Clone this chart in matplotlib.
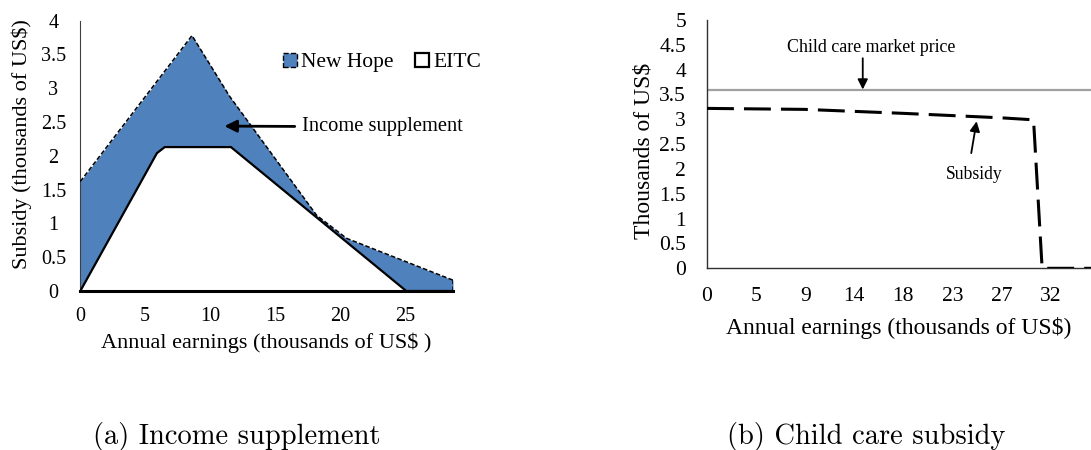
import numpy as np
import matplotlib
matplotlib.use("Agg")
import matplotlib.pyplot as plt
from matplotlib.patches import Patch

# ---------------- data ----------------
# (a) income supplement
nh_x = [0, 8.6, 11.5, 18.2, 20.5, 28.7]
nh_y = [1.62, 3.78, 2.88, 1.12, 0.78, 0.16]
eitc_x = [0, 5.9, 6.5, 11.6, 25.1, 28.7]
eitc_y = [0, 2.04, 2.13, 2.13, 0, 0]
a_xticks = [0, 5, 10, 15, 20, 25]
a_yticks = [0, 0.5, 1, 1.5, 2, 2.5, 3, 3.5, 4]
a_yticklabels = ["0", "0.5", "1", "1.5", "2", "2.5", "3", "3.5", "4"]

# (b) child care subsidy
price_x = [0, 36]
price_y = [3.6, 3.6]
sub_x = [0, 9.1, 18.3, 27.4, 30.4, 31.2, 36]
sub_y = [3.22, 3.20, 3.12, 3.03, 2.99, 0, 0]
b_xticks = list(np.linspace(0, 32, 8))
b_xticklabels = ["0", "5", "9", "14", "18", "23", "27", "32"]
b_yticks = [0, 0.5, 1, 1.5, 2, 2.5, 3, 3.5, 4, 4.5, 5]
b_yticklabels = ["0", "0.5", "1", "1.5", "2", "2.5", "3", "3.5", "4", "4.5", "5"]

BLUE = "#4F81BD"
SERIF = "Liberation Serif"
plt.rcParams["font.family"] = SERIF

W, H = 1091, 450
fig = plt.figure(figsize=(W / 100, H / 100), dpi=100)

def frac(l, t, r, b):
    return [l / W, 1 - b / H, (r - l) / W, (b - t) / H]

# ---------------- panel (a) ----------------
ax = fig.add_axes(frac(80.3, 20.7, 453, 291))
ax.fill_between(nh_x, 0, nh_y, color=BLUE, lw=0, zorder=1)
ax.fill_between(eitc_x, 0, eitc_y, color="white", lw=0, zorder=2)
ax.plot(eitc_x, eitc_y, color="black", lw=1.6, zorder=3, solid_joinstyle="round")
ax.plot(nh_x, nh_y, color="black", lw=1.1, dashes=(3, 1.5), zorder=4)
ax.plot([nh_x[-1], nh_x[-1]], [0, nh_y[-1]], color="black", lw=1.1, dashes=(3, 1.5), zorder=4)
ax.set_xlim(0, 28.7)
ax.set_ylim(0, 4)
for s in ["top", "right"]:
    ax.spines[s].set_visible(False)
ax.spines["left"].set_color("#404040")
ax.spines["left"].set_linewidth(0.8)
ax.spines["bottom"].set_color("black")
ax.spines["bottom"].set_linewidth(2.2)
ax.set_xticks(a_xticks)
ax.set_yticks(a_yticks)
ax.set_yticklabels(a_yticklabels)
ax.tick_params(axis="both", length=0, labelsize=14.5)
ax.tick_params(axis="y", pad=19.4)
ax.tick_params(axis="x", pad=11.5)
for lab in ax.get_yticklabels():
    lab.set_ha("center")
ax.set_ylabel("Subsidy (thousands of US$)", fontsize=16)
ax.yaxis.label.set_va("center")
ax.yaxis.set_label_coords(-0.156, 0.544)
ax.set_xlabel("Annual earnings (thousands of US$ )", fontsize=16)
ax.xaxis.label.set_va("center")
ax.xaxis.set_label_coords(0.5, -0.192)

handles = [Patch(facecolor=BLUE, edgecolor="black", linestyle="--", linewidth=1.0),
           Patch(facecolor="white", edgecolor="black", linewidth=1.6)]
ax.legend(handles, ["New Hope", "EITC"], ncol=2, frameon=False, fontsize=15.5,
          loc="center left", bbox_to_anchor=(0.544, 0.845), borderpad=0,
          handlelength=0.65, handleheight=0.65, handletextpad=0.2,
          columnspacing=1.0, borderaxespad=0)

ax.annotate("Income supplement", xy=(11.1, 2.44), xytext=(17.05, 2.43),
            ha="left", va="center", fontsize=14.8,
            arrowprops=dict(arrowstyle="-|>,head_length=0.6,head_width=0.3",
                            color="black", lw=2, mutation_scale=12,
                            shrinkA=3, shrinkB=0))

# ---------------- panel (b) ----------------
bx = fig.add_axes(frac(707, 20, 1091, 268.3))
bx.plot(price_x, price_y, color="#A0A0A0", lw=1.6, zorder=2)
bx.plot(sub_x, sub_y, color="black", lw=2.2, dashes=(8.8, 3.3), zorder=3)
bx.set_xlim(0, 35.75)
bx.set_ylim(0, 5)
for s in ["top", "right"]:
    bx.spines[s].set_visible(False)
for s in ["left", "bottom"]:
    bx.spines[s].set_color("#303030")
    bx.spines[s].set_linewidth(1.0)
bx.set_xticks(b_xticks)
bx.set_xticklabels(b_xticklabels)
bx.set_yticks(b_yticks)
bx.set_yticklabels(b_yticklabels)
bx.tick_params(axis="both", length=0, labelsize=15.5)
bx.tick_params(axis="y", pad=15.1)
bx.tick_params(axis="x", pad=13.7)
bx.set_ylabel("Thousands of US$", fontsize=17)
bx.yaxis.label.set_va("center")
bx.yaxis.set_label_coords(-0.164, 0.474)
bx.set_xlabel("Annual earnings (thousands of US$)", fontsize=17)
bx.xaxis.label.set_va("center")
bx.xaxis.set_label_coords(0.5, -0.240)

bx.text(15.27, 4.45, "Child care market price", ha="center", va="center", fontsize=12.9)
bx.annotate("", xy=(14.5, 3.6), xytext=(14.5, 4.23),
            arrowprops=dict(arrowstyle="-|>,head_length=0.5,head_width=0.25",
                            color="black", lw=1.3, mutation_scale=12,
                            shrinkA=0, shrinkB=0))
bx.text(24.9, 1.88, "Subsidy", ha="center", va="center", fontsize=12.7)
bx.annotate("", xy=(25.1, 2.96), xytext=(24.6, 2.32),
            arrowprops=dict(arrowstyle="-|>,head_length=0.5,head_width=0.25",
                            color="black", lw=1.3, mutation_scale=12,
                            shrinkA=0, shrinkB=0))

# ---------------- captions ----------------
fig.text(237 / W, 1 - 444 / H, "(a) Income supplement", family="cmr10",
         fontsize=20.5, ha="center", va="baseline")
fig.text(866 / W, 1 - 444 / H, "(b) Child care subsidy", family="cmr10",
         fontsize=20.5, ha="center", va="baseline")

fig.savefig("out.png", dpi=100)
